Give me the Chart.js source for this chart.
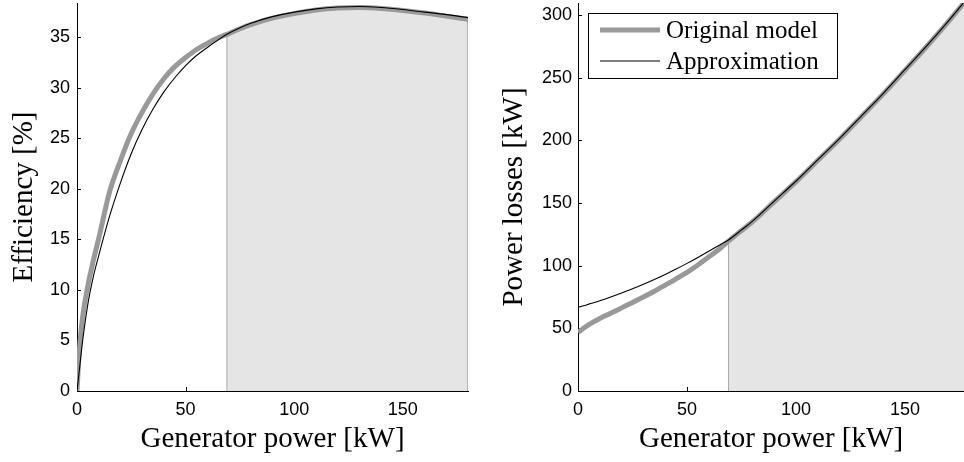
<!DOCTYPE html>
<html>
<head>
<meta charset="utf-8">
<script src="https://cdn.jsdelivr.net/npm/chart.js@4.4.1/dist/chart.umd.min.js"></script>
<style>
  html, body { margin: 0; padding: 0; background: #fff; }
  #wrap { position: relative; width: 964px; height: 462px; overflow: hidden; }
  canvas { position: absolute; top: 0; }
  #effChart { left: 0; }
  #lossChart { left: 482px; }
</style>
</head>
<body>
<div id="wrap">
  <canvas id="effChart" width="482" height="462"></canvas>
  <canvas id="lossChart" width="482" height="462"></canvas>
</div>
<script>
// generator power samples [kW]
const powerKW = [0, 1, 2.5, 5, 7.5, 10, 15, 20, 25, 30, 35, 40, 45, 50, 55, 60, 65, 69, 75, 80, 90, 100, 110, 120, 130, 140, 150, 160, 170, 180];

// efficiency [%]
const effOriginal = [0, 3.8, 7.2, 10.4, 12.9, 15.1, 19.7, 22.8, 25.5, 27.6, 29.4, 30.9, 32.1, 33.0, 33.8, 34.4, 34.95, 35.3, 35.85, 36.25, 36.9, 37.35, 37.7, 37.9, 37.95, 37.85, 37.65, 37.4, 37.1, 36.8];
const effApprox = [0, 1.9, 4.8, 8.6, 11.3, 13.4, 17.3, 20.6, 23.5, 25.9, 27.9, 29.6, 31.0, 32.2, 33.2, 34.0, 34.75, 35.3, 35.95, 36.4, 37.05, 37.5, 37.82, 38.0, 38.05, 37.95, 37.75, 37.5, 37.25, 36.95];

// power losses [kW]
const lossOriginal = [47, 48, 50, 53, 55.5, 57.8, 62, 66.3, 70.6, 75, 79.6, 84.5, 89.5, 94.7, 100.5, 107, 113.5, 119.5, 128, 135, 151, 167, 184, 201, 219, 237, 256, 275, 295, 316];
const lossApprox = [66.8, 67.3, 68, 69.3, 70.6, 72, 75, 78.2, 81.6, 85.2, 89, 93, 97.3, 101.8, 106.5, 111.5, 116.5, 120.5, 128.5, 135.5, 151.5, 167.5, 184.5, 201.5, 219.5, 237.5, 256.5, 275.5, 295.5, 316.5];

// shaded operating range starts here [kW]
const shadeFrom = 69;

const powerTicks = [0, 50, 100, 150];
const effTicks = [0, 5, 10, 15, 20, 25, 30, 35];
const lossTicks = [0, 50, 100, 150, 200, 250, 300];

const seriesNames = ['Original model', 'Approximation'];

const SANS = '"Liberation Sans", Arial, sans-serif';
const SERIF = '"Liberation Serif", "DejaVu Serif", serif';

function points(ys) {
  return powerKW.map(function (x, i) { return { x: x, y: ys[i] }; });
}

function shadePoints(ys) {
  const pts = [{ x: shadeFrom, y: 0 }];
  powerKW.forEach(function (x, i) {
    if (x >= shadeFrom) pts.push({ x: x, y: ys[i] });
  });
  pts.push({ x: powerKW[powerKW.length - 1], y: 0 });
  return pts;
}

// inward tick marks, drawn under the datasets like the patch in the original
const innerTicks = {
  id: 'innerTicks',
  beforeDatasetsDraw: function (chart) {
    const ctx = chart.ctx;
    const area = chart.chartArea;
    const xs = chart.scales.x;
    const ys = chart.scales.y;
    ctx.save();
    ctx.strokeStyle = '#000';
    ctx.lineWidth = 1;
    ctx.beginPath();
    xs.ticks.forEach(function (t) {
      const px = Math.round(xs.getPixelForValue(t.value)) + 0.5;
      ctx.moveTo(px, area.bottom);
      ctx.lineTo(px, area.bottom - 4);
    });
    ys.ticks.forEach(function (t) {
      const py = Math.round(ys.getPixelForValue(t.value)) + 0.5;
      ctx.moveTo(area.left, py);
      ctx.lineTo(area.left + 4, py);
    });
    ctx.stroke();
    ctx.restore();
  }
};

const boxLegend = {
  id: 'boxLegend',
  afterDraw: function (chart) {
    if (!chart.options.plugins.boxLegend || !chart.options.plugins.boxLegend.show) return;
    const ctx = chart.ctx;
    const area = chart.chartArea;
    const left = area.left + 10;
    const top = area.top + 10;
    const w = 249;
    const h = 65;
    ctx.save();
    ctx.fillStyle = '#fff';
    ctx.fillRect(left, top, w, h);
    ctx.strokeStyle = '#000';
    ctx.lineWidth = 1;
    ctx.strokeRect(left + 0.5, top + 0.5, w, h);
    const rows = [chart.data.datasets[1], chart.data.datasets[0]];
    rows.forEach(function (ds, i) {
      const y = top + 17 + i * 31;
      ctx.strokeStyle = ds.borderColor;
      ctx.lineWidth = ds.borderWidth;
      ctx.beginPath();
      ctx.moveTo(left + 12, y);
      ctx.lineTo(left + 72, y);
      ctx.stroke();
      ctx.fillStyle = '#000';
      ctx.font = '25px ' + SERIF;
      ctx.textBaseline = 'middle';
      ctx.textAlign = 'left';
      ctx.fillText(ds.label, left + 78, y + 1);
    });
    ctx.restore();
  }
};

function buildChart(id, cfg) {
  return new Chart(document.getElementById(id), {
    type: 'line',
    data: {
      datasets: [
        {
          label: seriesNames[1],
          data: points(cfg.approx),
          borderColor: '#000',
          borderWidth: 1.1,
          cubicInterpolationMode: 'monotone',
          fill: false,
          order: 0
        },
        {
          label: seriesNames[0],
          data: points(cfg.original),
          borderColor: '#999999',
          borderWidth: 5,
          cubicInterpolationMode: 'monotone',
          fill: false,
          order: 1
        },
        {
          label: 'shade',
          data: shadePoints(cfg.original),
          borderColor: '#a8a8a8',
          borderWidth: 1,
          backgroundColor: '#e5e5e5',
          tension: 0,
          fill: 'origin',
          order: 2
        }
      ]
    },
    options: {
      responsive: false,
      animation: false,
      devicePixelRatio: 1,
      layout: { padding: { top: 3, right: cfg.padRight, left: 0, bottom: 0 } },
      elements: { point: { radius: 0 } },
      plugins: {
        legend: { display: false },
        tooltip: { enabled: false },
        boxLegend: { show: cfg.legend }
      },
      scales: {
        x: {
          type: 'linear',
          min: 0,
          max: cfg.xMax,
          afterBuildTicks: function (s) { s.ticks = powerTicks.map(function (v) { return { value: v }; }); },
          afterFit: function (s) { s.height = 71; s.paddingLeft = 0; s.paddingRight = 0; },
          grid: { display: false, drawTicks: false },
          border: { display: true, color: '#000', width: 1 },
          ticks: { color: '#000', font: { family: SANS, size: 18 }, padding: 8, maxRotation: 0, autoSkip: false },
          title: {
            display: true,
            text: 'Generator power [kW]',
            color: '#000',
            font: { family: SERIF, size: 29, lineHeight: 1.2 },
            padding: { top: 0, bottom: 5.6 }
          }
        },
        y: {
          type: 'linear',
          min: 0,
          max: cfg.yMax,
          afterBuildTicks: function (s) { s.ticks = cfg.yTicks.map(function (v) { return { value: v }; }); },
          afterFit: function (s) { s.width = cfg.yWidth; s.paddingTop = 0; s.paddingBottom = 0; },
          grid: { display: false, drawTicks: false },
          border: { display: true, color: '#000', width: 1 },
          ticks: { color: '#000', font: { family: SANS, size: 18 }, padding: cfg.yPad, autoSkip: false },
          title: {
            display: true,
            text: cfg.yTitle,
            color: '#000',
            font: { family: SERIF, size: 29, lineHeight: 1.2 },
            padding: { top: cfg.yTitlePad, bottom: 0 }
          }
        }
      }
    },
    plugins: [innerTicks, boxLegend]
  });
}

buildChart('effChart', {
  original: effOriginal,
  approx: effApprox,
  xMax: 180,
  yMax: 38.4,
  yTicks: effTicks,
  yTitle: 'Efficiency [%]',
  yWidth: 77,
  yPad: 7,
  yTitlePad: 6.6,
  padRight: 14,
  legend: false
});

buildChart('lossChart', {
  original: lossOriginal,
  approx: lossApprox,
  xMax: 177,
  yMax: 309.5,
  yTicks: lossTicks,
  yTitle: 'Power losses [kW]',
  yWidth: 96,
  yPad: 6,
  yTitlePad: 14.6,
  padRight: 0,
  legend: true
});
</script>
</body>
</html>
